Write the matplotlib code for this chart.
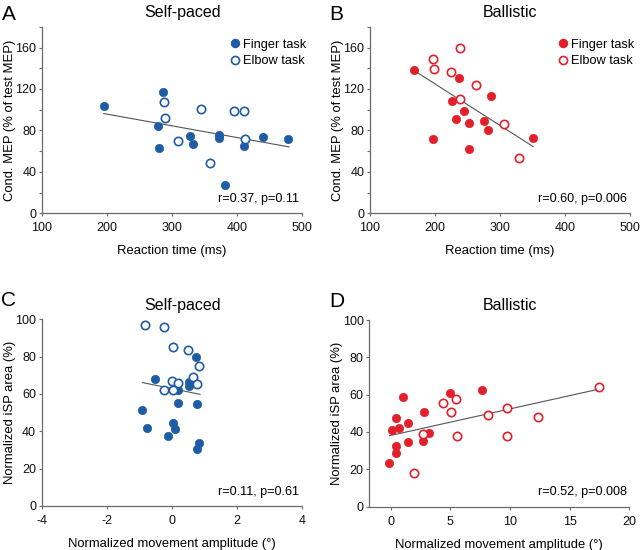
import matplotlib
matplotlib.use("Agg")
import matplotlib.pyplot as plt
from matplotlib.ticker import MultipleLocator
from matplotlib.lines import Line2D

plt.rcParams['font.family'] = ['Liberation Sans', 'DejaVu Sans']
plt.rcParams['axes.unicode_minus'] = False

BLUE = "#1f5ca6"
RED = "#e3202a"
AXC = "#6a6a6a"

# ---- Panel A: Self-paced, MEP vs reaction time
a_finger_x = [195, 286, 279, 280, 327, 332, 372, 373, 381, 411, 440, 478]
a_finger_y = [104, 117, 84, 63, 75, 67, 76, 73, 27, 65, 74, 72]
a_elbow_x = [287, 290, 309, 344, 359, 395, 410, 413]
a_elbow_y = [107, 92, 70, 101, 49, 99, 99, 72]
a_fit_x = [195, 480]
a_fit_y = [96.3, 64.1]
a_stat = "r=0.37, p=0.11"

# ---- Panel B: Ballistic, MEP vs reaction time
b_finger_x = [168, 237, 286, 226, 244, 233, 253, 276, 282, 197, 253, 351]
b_finger_y = [138, 131, 113, 108, 99, 91, 87, 89, 80, 72, 62, 73]
b_elbow_x = [238, 197, 198, 225, 239, 263, 307, 330]
b_elbow_y = [160, 149, 139, 136, 110, 124, 86, 53]
b_fit_x = [168, 351]
b_fit_y = [137.8, 64.4]
b_stat = "r=0.60, p=0.006"

# ---- Panel C: Self-paced, iSP area vs movement amplitude
c_finger_x = [0.74, -0.50, 0.52, 0.54, 0.20, 0.19, 0.79, -0.91, -0.75, 0.05, 0.11, -0.13, 0.84, 0.78]
c_finger_y = [80, 68, 66.6, 64, 62, 55, 54.5, 51.5, 42, 44.6, 41.3, 37.5, 33.6, 30.5]
c_elbow_x = [-0.82, -0.24, 0.03, 0.50, 0.83, 0.66, 0.02, 0.19, 0.77, -0.25, 0.05]
c_elbow_y = [97, 95.7, 85.4, 83.4, 75, 69.3, 67.1, 66.1, 65.5, 62.1, 62]
c_fit_x = [-0.90, 0.87]
c_fit_y = [66.1, 59.8]
c_stat = "r=0.11, p=0.61"

# ---- Panel D: Ballistic, iSP area vs movement amplitude
d_finger_x = [-0.14, 0.48, 0.48, 0.08, 0.42, 0.70, 1.01, 1.44, 1.41, 2.79, 2.73, 3.18, 4.93, 7.69]
d_finger_y = [23.6, 28.8, 32.7, 41.1, 47.3, 42.1, 58.8, 44.6, 34.6, 50.9, 35.2, 39.3, 60.9, 62.7]
d_elbow_x = [1.97, 2.70, 4.42, 5.46, 5.01, 5.52, 8.17, 9.78, 9.78, 12.34, 17.44]
d_elbow_y = [18, 38.9, 55.4, 57.7, 50.9, 37.9, 49.3, 53, 38, 47.9, 64.3]
d_fit_x = [-0.11, 17.4]
d_fit_y = [38.0, 62.9]
d_stat = "r=0.52, p=0.008"

titles = ["Self-paced", "Ballistic", "Self-paced", "Ballistic"]
letters = ["A", "B", "C", "D"]

fig = plt.figure(figsize=(6.4, 5.5), dpi=100)

W = 0.4063
posA = [0.0656, 0.6122, W, 0.339]
posB = [0.578, 0.6122, W, 0.339]
posC = [0.0652, 0.0800, W, 0.3395]
posD = [0.5770, 0.0790, W, 0.3390]

MS = 36
LW_OPEN = 1.2
FS_TICK = 9.0
FS_LAB = 9.4


def style(ax):
    for s in ("top", "right"):
        ax.spines[s].set_visible(False)
    for s in ("left", "bottom"):
        ax.spines[s].set_color(AXC)
        ax.spines[s].set_linewidth(0.9)
    ax.tick_params(which="both", direction="out", color=AXC, labelsize=FS_TICK,
                   labelcolor="#111111")
    ax.tick_params(axis="x", pad=4)
    ax.tick_params(axis="y", pad=1.5)
    ax.tick_params(which="major", length=2.5, width=0.8)
    ax.tick_params(which="minor", length=2.0, width=0.8)


def panel(pos, fx, fy, ex, ey, lx, ly, color, stat, title, letter,
          xlim, ylim, xmaj, ymaj, ymin, xlabel, ylabel, legend):
    ax = fig.add_axes(pos)
    style(ax)
    ax.scatter(fx, fy, s=MS, color=color, edgecolors=color, linewidths=0.5, zorder=3)
    ax.scatter(ex, ey, s=MS, facecolors="white", edgecolors=color, linewidths=LW_OPEN, zorder=3)
    ax.plot(lx, ly, color="#555555", lw=0.8, zorder=2)
    ax.set_xlim(*xlim)
    ax.set_ylim(*ylim)
    ax.xaxis.set_major_locator(MultipleLocator(xmaj))
    ax.yaxis.set_major_locator(MultipleLocator(ymaj))
    if ymin:
        ax.yaxis.set_minor_locator(MultipleLocator(ymin))
    ax.set_xlabel(xlabel, fontsize=FS_LAB, labelpad=8)
    ax.set_ylabel(ylabel, fontsize=FS_LAB, labelpad=-0.5)
    ax.text(0.99, 0.045, stat, transform=ax.transAxes, ha="right", va="bottom", fontsize=9.1)
    ax.set_title(title, fontsize=11.5, x=0.54, pad=7)
    ax.text(-0.155, 1.065 if ylim[1] == 180 else 1.10, letter, transform=ax.transAxes,
            fontsize=15, ha="left", va="center")
    if legend:
        h1 = Line2D([], [], marker="o", ls="none", color=color, markersize=5.8)
        h2 = Line2D([], [], marker="o", ls="none", markerfacecolor="white",
                    markeredgecolor=color, markeredgewidth=LW_OPEN, markersize=5.8)
        ax.legend([h1, h2], ["Finger task", "Elbow task"], loc="upper right",
                  bbox_to_anchor=(1.04, 0.97), frameon=False, fontsize=9.2,
                  handletextpad=0.0, handlelength=1.2, labelspacing=0.35,
                  borderaxespad=0.1)
    return ax


panel(posA, a_finger_x, a_finger_y, a_elbow_x, a_elbow_y, a_fit_x, a_fit_y, BLUE,
      a_stat, titles[0], letters[0], (100, 500), (0, 180), 100, 40, 20,
      "Reaction time (ms)", "Cond. MEP (% of test MEP)", True)
panel(posB, b_finger_x, b_finger_y, b_elbow_x, b_elbow_y, b_fit_x, b_fit_y, RED,
      b_stat, titles[1], letters[1], (100, 500), (0, 180), 100, 40, 20,
      "Reaction time (ms)", "Cond. MEP (% of test MEP)", True)
panel(posC, c_finger_x, c_finger_y, c_elbow_x, c_elbow_y, c_fit_x, c_fit_y, BLUE,
      c_stat, titles[2], letters[2], (-4, 4), (0, 100), 2, 20, None,
      "Normalized movement amplitude (°)", "Normalized iSP area (%)", False)
panel(posD, d_finger_x, d_finger_y, d_elbow_x, d_elbow_y, d_fit_x, d_fit_y, RED,
      d_stat, titles[3], letters[3], (-1.8, 20), (0, 100), 5, 20, None,
      "Normalized movement amplitude (°)", "Normalized iSP area (%)", False)

fig.savefig("out.png", dpi=100)
